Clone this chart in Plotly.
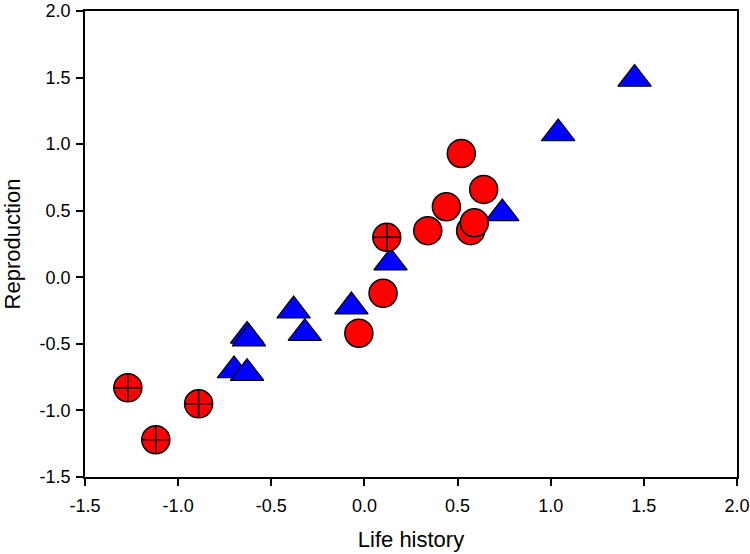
import plotly.graph_objects as go

# Red circles with crosshair
cross_x = [-1.27, -1.12, -0.89, 0.12]
cross_y = [-0.83, -1.22, -0.95, 0.30]

# Plain red circles
circ_x = [0.52, 0.64, 0.44, 0.34, 0.57, 0.59, 0.10, -0.03]
circ_y = [0.93, 0.66, 0.53, 0.35, 0.35, 0.41, -0.12, -0.42]

# Blue triangles
tri_x = [1.45, 1.04, 0.74, 0.14, -0.07, -0.38, -0.32, -0.63, -0.62, -0.70, -0.63]
tri_y = [1.49, 1.08, 0.48, 0.11, -0.22, -0.25, -0.42, -0.44, -0.46, -0.70, -0.72]

x_ticks = [-1.5, -1.0, -0.5, 0.0, 0.5, 1.0, 1.5, 2.0]
y_ticks = [-1.5, -1.0, -0.5, 0.0, 0.5, 1.0, 1.5, 2.0]

fig = go.Figure()
fig.add_trace(go.Scatter(x=tri_x, y=tri_y, mode="markers", cliponaxis=False,
                         marker=dict(symbol="triangle-up", size=29, color="#0000ff",
                                     line=dict(color="black", width=1.2))))
fig.add_trace(go.Scatter(x=circ_x, y=circ_y, mode="markers", cliponaxis=False,
                         marker=dict(symbol="circle", size=28, color="#ff0000",
                                     line=dict(color="black", width=1.5))))
fig.add_trace(go.Scatter(x=cross_x, y=cross_y, mode="markers", cliponaxis=False,
                         marker=dict(symbol="circle-cross", size=28, color="#ff0000",
                                     line=dict(color="black", width=1.5))))

axis_common = dict(showgrid=False, zeroline=False, showline=True, linecolor="black",
                   linewidth=1.5, mirror=True, ticks="outside", ticklen=7,
                   tickwidth=1.5, tickcolor="black", automargin=False,
                   ticklabeloverflow="allow",
                   tickfont=dict(family="Liberation Sans, Arial", size=18, color="black"))

fig.update_layout(
    width=750, height=554,
    margin=dict(l=85, r=13, t=11, b=77),
    paper_bgcolor="white", plot_bgcolor="white",
    showlegend=False,
    xaxis=dict(range=[-1.5, 2.0], tickvals=x_ticks,
               ticktext=[f"{v:.1f}" for v in x_ticks],
               ticklabelstandoff=5,
               title=dict(text="Life history", standoff=16,
                          font=dict(family="Liberation Sans, Arial", size=22, color="black")),
               **axis_common),
    yaxis=dict(range=[-1.5, 2.0], tickvals=y_ticks,
               ticktext=[f"{v:.1f}" for v in y_ticks],
               ticklabelstandoff=2,
               title=dict(text="Reproduction", standoff=14,
                          font=dict(family="Liberation Sans, Arial", size=22, color="black")),
               **axis_common),
)

fig.write_html("out.html", config={"displayModeBar": False},
               post_script="document.body.style.margin='0';document.body.style.overflow='hidden';")
